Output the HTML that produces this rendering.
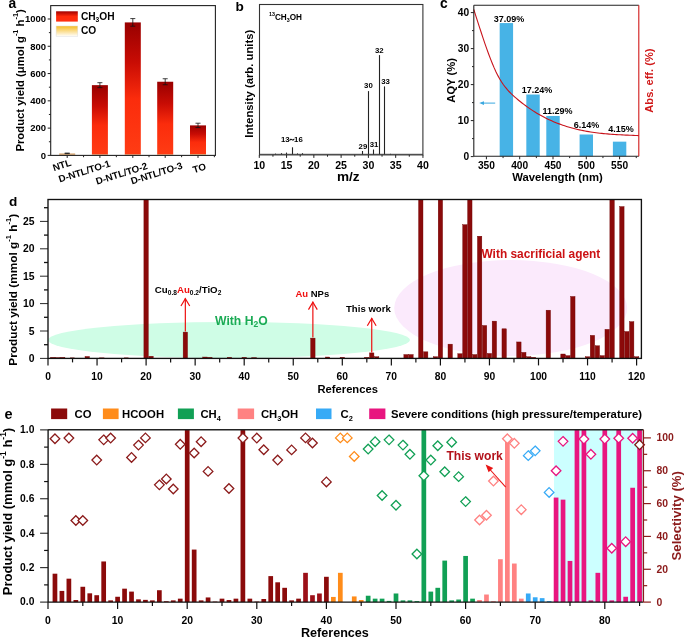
<!DOCTYPE html>
<html><head><meta charset="utf-8"><style>
html,body{margin:0;padding:0;background:#fff;}
body{width:685px;height:638px;overflow:hidden;}
svg{display:block;will-change:transform;}
</style></head><body>
<svg width="685" height="638" viewBox="0 0 685 638" font-family="'Liberation Sans', sans-serif" font-weight="bold">
<rect width="685" height="638" fill="#fff"/>
<defs><linearGradient id="gRed" x1="0" y1="0" x2="0" y2="1"><stop offset="0" stop-color="#980000"/><stop offset="0.3" stop-color="#c80c04"/><stop offset="0.58" stop-color="#fb2c0c"/><stop offset="1" stop-color="#ff3c14"/></linearGradient><linearGradient id="gRedL" x1="0" y1="0" x2="0" y2="1"><stop offset="0" stop-color="#a00000"/><stop offset="0.5" stop-color="#ff2a0a"/><stop offset="1" stop-color="#ff2e10"/></linearGradient><linearGradient id="gCO" x1="0" y1="0" x2="0" y2="1"><stop offset="0" stop-color="#f7bd22"/><stop offset="1" stop-color="#ffffff"/></linearGradient></defs><rect x="59.20" y="153.35" width="16.00" height="2.05" fill="#dcb080" /><line x1="67.20" y1="153.08" x2="67.20" y2="153.63" stroke="#111" stroke-width="0.8" /><line x1="64.70" y1="153.08" x2="69.70" y2="153.08" stroke="#111" stroke-width="0.8" /><line x1="64.70" y1="153.63" x2="69.70" y2="153.63" stroke="#111" stroke-width="0.8" /><rect x="91.90" y="85.15" width="16.00" height="69.43" fill="url(#gRed)" /><rect x="91.90" y="154.58" width="16.00" height="0.82" fill="#e4aa6a" /><line x1="99.90" y1="82.70" x2="99.90" y2="87.61" stroke="#111" stroke-width="0.8" /><line x1="97.40" y1="82.70" x2="102.40" y2="82.70" stroke="#111" stroke-width="0.8" /><line x1="97.40" y1="87.61" x2="102.40" y2="87.61" stroke="#111" stroke-width="0.8" /><rect x="124.80" y="22.41" width="16.00" height="132.17" fill="url(#gRed)" /><rect x="124.80" y="154.58" width="16.00" height="0.82" fill="#e4aa6a" /><line x1="132.80" y1="18.59" x2="132.80" y2="26.23" stroke="#111" stroke-width="0.8" /><line x1="130.30" y1="18.59" x2="135.30" y2="18.59" stroke="#111" stroke-width="0.8" /><line x1="130.30" y1="26.23" x2="135.30" y2="26.23" stroke="#111" stroke-width="0.8" /><rect x="157.20" y="81.74" width="16.00" height="72.84" fill="url(#gRed)" /><rect x="157.20" y="154.58" width="16.00" height="0.82" fill="#e4aa6a" /><line x1="165.20" y1="78.74" x2="165.20" y2="84.74" stroke="#111" stroke-width="0.8" /><line x1="162.70" y1="78.74" x2="167.70" y2="78.74" stroke="#111" stroke-width="0.8" /><line x1="162.70" y1="84.74" x2="167.70" y2="84.74" stroke="#111" stroke-width="0.8" /><rect x="190.00" y="125.39" width="16.00" height="28.92" fill="url(#gRed)" /><rect x="190.00" y="154.31" width="16.00" height="1.09" fill="#e4aa6a" /><line x1="198.00" y1="123.21" x2="198.00" y2="127.57" stroke="#111" stroke-width="0.8" /><line x1="195.50" y1="123.21" x2="200.50" y2="123.21" stroke="#111" stroke-width="0.8" /><line x1="195.50" y1="127.57" x2="200.50" y2="127.57" stroke="#111" stroke-width="0.8" /><rect x="50.7" y="5.6" width="164.7" height="149.8" fill="none" stroke="#222" stroke-width="1.1"/><line x1="47.70" y1="155.40" x2="50.70" y2="155.40" stroke="#222" stroke-width="1.0" /><text x="46.10" y="158.70" font-size="9.5" text-anchor="end" fill="#000" >0</text><line x1="47.70" y1="128.12" x2="50.70" y2="128.12" stroke="#222" stroke-width="1.0" /><text x="46.10" y="131.42" font-size="9.5" text-anchor="end" fill="#000" >200</text><line x1="47.70" y1="100.84" x2="50.70" y2="100.84" stroke="#222" stroke-width="1.0" /><text x="46.10" y="104.14" font-size="9.5" text-anchor="end" fill="#000" >400</text><line x1="47.70" y1="73.56" x2="50.70" y2="73.56" stroke="#222" stroke-width="1.0" /><text x="46.10" y="76.86" font-size="9.5" text-anchor="end" fill="#000" >600</text><line x1="47.70" y1="46.28" x2="50.70" y2="46.28" stroke="#222" stroke-width="1.0" /><text x="46.10" y="49.58" font-size="9.5" text-anchor="end" fill="#000" >800</text><line x1="47.70" y1="19.00" x2="50.70" y2="19.00" stroke="#222" stroke-width="1.0" /><text x="46.10" y="22.30" font-size="9.5" text-anchor="end" fill="#000" >1000</text><line x1="48.90" y1="141.76" x2="50.70" y2="141.76" stroke="#222" stroke-width="1.0" /><line x1="48.90" y1="114.48" x2="50.70" y2="114.48" stroke="#222" stroke-width="1.0" /><line x1="48.90" y1="87.20" x2="50.70" y2="87.20" stroke="#222" stroke-width="1.0" /><line x1="48.90" y1="59.92" x2="50.70" y2="59.92" stroke="#222" stroke-width="1.0" /><line x1="48.90" y1="32.64" x2="50.70" y2="32.64" stroke="#222" stroke-width="1.0" /><line x1="67.20" y1="155.40" x2="67.20" y2="157.90" stroke="#222" stroke-width="1.0" /><line x1="99.90" y1="155.40" x2="99.90" y2="157.90" stroke="#222" stroke-width="1.0" /><line x1="132.80" y1="155.40" x2="132.80" y2="157.90" stroke="#222" stroke-width="1.0" /><line x1="165.20" y1="155.40" x2="165.20" y2="157.90" stroke="#222" stroke-width="1.0" /><line x1="198.00" y1="155.40" x2="198.00" y2="157.90" stroke="#222" stroke-width="1.0" /><line x1="83.55" y1="155.40" x2="83.55" y2="157.20" stroke="#222" stroke-width="1.0" /><line x1="116.35" y1="155.40" x2="116.35" y2="157.20" stroke="#222" stroke-width="1.0" /><line x1="149.00" y1="155.40" x2="149.00" y2="157.20" stroke="#222" stroke-width="1.0" /><line x1="181.60" y1="155.40" x2="181.60" y2="157.20" stroke="#222" stroke-width="1.0" /><line x1="214.35" y1="155.40" x2="214.35" y2="157.20" stroke="#222" stroke-width="1.0" /><rect x="56.10" y="11.30" width="21.70" height="10.30" fill="url(#gRedL)" /><rect x="56.10" y="26.00" width="21.70" height="10.50" fill="url(#gCO)" stroke="#ddd" stroke-width="0.5"/><text x="80.90" y="19.60" font-size="10.2" text-anchor="start" fill="#000" ><tspan dy="0.00" >CH</tspan><tspan dy="2.24" font-size="6.63" >3</tspan><tspan dy="-2.24" >OH</tspan></text><text x="80.90" y="34.20" font-size="10.2" text-anchor="start" fill="#000" >CO</text><text transform="translate(53.90,171.20) rotate(-17.5)" font-size="9.7" text-anchor="start" fill="#000">NTL</text><text transform="translate(59.80,182.60) rotate(-17.5)" font-size="9.7" text-anchor="start" fill="#000">D-NTL/TO-1</text><text transform="translate(97.10,184.80) rotate(-17.5)" font-size="9.7" text-anchor="start" fill="#000">D-NTL/TO-2</text><text transform="translate(131.90,184.60) rotate(-17.5)" font-size="9.7" text-anchor="start" fill="#000">D-NTL/TO-3</text><text transform="translate(194.00,173.20) rotate(-17.5)" font-size="9.7" text-anchor="start" fill="#000">TO</text><text x="8.50" y="8.30" font-size="13.8" text-anchor="start" fill="#000" >a</text><text transform="translate(23.60,80.40) rotate(-90)" font-size="11.3" text-anchor="middle" fill="#000"><tspan dy="0.00" >Product yield (μmol g</tspan><tspan dy="-5.31" font-size="7.35" >-1</tspan><tspan dy="5.31" > h</tspan><tspan dy="-5.31" font-size="7.35" >-1</tspan><tspan dy="5.31" >)</tspan></text><rect x="259.5" y="4.5" width="163.39999999999998" height="150.4" fill="none" stroke="#333" stroke-width="1.1"/><line x1="275.50" y1="154.90" x2="275.50" y2="153.60" stroke="#222" stroke-width="1.1" /><line x1="281.50" y1="154.90" x2="281.50" y2="153.20" stroke="#222" stroke-width="1.1" /><line x1="286.50" y1="154.90" x2="286.50" y2="152.60" stroke="#222" stroke-width="1.1" /><line x1="292.50" y1="154.90" x2="292.50" y2="147.30" stroke="#222" stroke-width="1.1" /><line x1="297.50" y1="154.90" x2="297.50" y2="153.40" stroke="#222" stroke-width="1.1" /><line x1="302.50" y1="154.90" x2="302.50" y2="153.20" stroke="#222" stroke-width="1.1" /><line x1="362.50" y1="154.90" x2="362.50" y2="151.00" stroke="#222" stroke-width="1.1" /><line x1="368.50" y1="154.90" x2="368.50" y2="91.10" stroke="#222" stroke-width="1.1" /><line x1="373.50" y1="154.90" x2="373.50" y2="149.50" stroke="#222" stroke-width="1.1" /><line x1="379.50" y1="154.90" x2="379.50" y2="55.10" stroke="#222" stroke-width="1.1" /><line x1="384.50" y1="154.90" x2="384.50" y2="86.40" stroke="#222" stroke-width="1.1" /><line x1="390.50" y1="154.90" x2="390.50" y2="153.80" stroke="#222" stroke-width="1.1" /><line x1="259.50" y1="154.30" x2="422.90" y2="154.30" stroke="#444" stroke-width="1.0" /><line x1="259.30" y1="154.90" x2="259.30" y2="157.90" stroke="#222" stroke-width="1.0" /><text x="259.30" y="168.80" font-size="10.6" text-anchor="middle" fill="#000" >10</text><line x1="286.57" y1="154.90" x2="286.57" y2="157.90" stroke="#222" stroke-width="1.0" /><text x="286.57" y="168.80" font-size="10.6" text-anchor="middle" fill="#000" >15</text><line x1="313.85" y1="154.90" x2="313.85" y2="157.90" stroke="#222" stroke-width="1.0" /><text x="313.85" y="168.80" font-size="10.6" text-anchor="middle" fill="#000" >20</text><line x1="341.12" y1="154.90" x2="341.12" y2="157.90" stroke="#222" stroke-width="1.0" /><text x="341.12" y="168.80" font-size="10.6" text-anchor="middle" fill="#000" >25</text><line x1="368.40" y1="154.90" x2="368.40" y2="157.90" stroke="#222" stroke-width="1.0" /><text x="368.40" y="168.80" font-size="10.6" text-anchor="middle" fill="#000" >30</text><line x1="395.68" y1="154.90" x2="395.68" y2="157.90" stroke="#222" stroke-width="1.0" /><text x="395.68" y="168.80" font-size="10.6" text-anchor="middle" fill="#000" >35</text><line x1="422.95" y1="154.90" x2="422.95" y2="157.90" stroke="#222" stroke-width="1.0" /><text x="422.95" y="168.80" font-size="10.6" text-anchor="middle" fill="#000" >40</text><line x1="272.94" y1="154.90" x2="272.94" y2="156.70" stroke="#222" stroke-width="1.0" /><line x1="300.21" y1="154.90" x2="300.21" y2="156.70" stroke="#222" stroke-width="1.0" /><line x1="327.49" y1="154.90" x2="327.49" y2="156.70" stroke="#222" stroke-width="1.0" /><line x1="354.76" y1="154.90" x2="354.76" y2="156.70" stroke="#222" stroke-width="1.0" /><line x1="382.04" y1="154.90" x2="382.04" y2="156.70" stroke="#222" stroke-width="1.0" /><line x1="409.31" y1="154.90" x2="409.31" y2="156.70" stroke="#222" stroke-width="1.0" /><text x="280.90" y="142.30" font-size="7.8" text-anchor="start" fill="#000" >13</text><text x="302.80" y="142.30" font-size="7.8" text-anchor="end" fill="#000" >16</text><path d="M289.7,140.6 C290.3,139.2 291.1,138.9 291.9,139.6 C292.7,140.3 293.4,140.4 294.1,139.0" fill="none" stroke="#000" stroke-width="1.05"/><text x="362.94" y="149.00" font-size="7.8" text-anchor="middle" fill="#000" >29</text><text x="374.06" y="146.60" font-size="7.8" text-anchor="middle" fill="#000" >31</text><text x="368.40" y="88.00" font-size="7.8" text-anchor="middle" fill="#000" >30</text><text x="379.31" y="52.70" font-size="7.8" text-anchor="middle" fill="#000" >32</text><text x="385.56" y="83.80" font-size="7.8" text-anchor="middle" fill="#000" >33</text><text x="269.00" y="20.00" font-size="8.2" text-anchor="start" fill="#000" ><tspan dy="-3.85" font-size="5.33" >13</tspan><tspan dy="3.85" >CH</tspan><tspan dy="1.80" font-size="5.33" >3</tspan><tspan dy="-1.80" >OH</tspan></text><text x="235.40" y="10.60" font-size="13.6" text-anchor="start" fill="#000" >b</text><text x="348.30" y="181.10" font-size="13.6" text-anchor="middle" fill="#000" >m/z</text><text transform="translate(253.30,83.70) rotate(-90)" font-size="11.3" text-anchor="middle" fill="#000">Intensity (arb. units)</text><rect x="499.68" y="23.08" width="13.40" height="133.22" fill="#47b3e6" /><text x="509.00" y="22.10" font-size="9.0" text-anchor="middle" fill="#000" >37.09%</text><rect x="526.32" y="94.54" width="13.40" height="61.76" fill="#47b3e6" /><text x="536.90" y="92.70" font-size="9.0" text-anchor="middle" fill="#000" >17.24%</text><rect x="546.30" y="115.96" width="13.40" height="40.34" fill="#47b3e6" /><text x="557.50" y="113.70" font-size="9.0" text-anchor="middle" fill="#000" >11.29%</text><rect x="579.60" y="134.50" width="13.40" height="21.80" fill="#47b3e6" /><text x="586.50" y="128.00" font-size="9.0" text-anchor="middle" fill="#000" >6.14%</text><rect x="612.90" y="141.66" width="13.40" height="14.64" fill="#47b3e6" /><text x="621.00" y="131.60" font-size="9.0" text-anchor="middle" fill="#000" >4.15%</text><path d="M473.80,9.53 L475.65,15.32 L477.51,21.10 L479.36,26.85 L481.22,32.54 L483.07,38.13 L484.92,43.59 L486.78,48.89 L488.63,54.00 L490.49,58.90 L492.34,63.54 L494.19,67.90 L496.05,71.94 L497.90,75.64 L499.76,78.99 L501.61,82.01 L503.46,84.74 L505.32,87.21 L507.17,89.46 L509.02,91.51 L510.88,93.40 L512.73,95.16 L514.59,96.83 L516.44,98.44 L518.29,99.99 L520.15,101.51 L522.00,102.97 L523.86,104.39 L525.71,105.77 L527.56,107.11 L529.42,108.40 L531.27,109.65 L533.13,110.86 L534.98,112.03 L536.83,113.16 L538.69,114.25 L540.54,115.30 L542.40,116.31 L544.25,117.29 L546.10,118.23 L547.96,119.14 L549.81,120.01 L551.67,120.85 L553.52,121.65 L555.37,122.43 L557.23,123.17 L559.08,123.88 L560.93,124.56 L562.79,125.21 L564.64,125.83 L566.50,126.43 L568.35,127.00 L570.20,127.54 L572.06,128.05 L573.91,128.54 L575.77,129.01 L577.62,129.45 L579.47,129.87 L581.33,130.27 L583.18,130.64 L585.04,131.00 L586.89,131.34 L588.74,131.65 L590.60,131.95 L592.45,132.23 L594.31,132.49 L596.16,132.74 L598.01,132.97 L599.87,133.19 L601.72,133.39 L603.58,133.58 L605.43,133.76 L607.28,133.92 L609.14,134.08 L610.99,134.22 L612.84,134.35 L614.70,134.48 L616.55,134.59 L618.41,134.70 L620.26,134.81 L622.11,134.90 L623.97,134.99 L625.82,135.08 L627.68,135.16 L629.53,135.24 L631.38,135.32 L633.24,135.39 L635.09,135.47 L636.95,135.54 L638.80,135.62" fill="none" stroke="#c8141c" stroke-width="1.1"/><line x1="473.80" y1="5.20" x2="638.80" y2="5.20" stroke="#222" stroke-width="1.1" /><line x1="473.80" y1="5.20" x2="473.80" y2="156.30" stroke="#222" stroke-width="1.1" /><line x1="473.80" y1="156.30" x2="638.80" y2="156.30" stroke="#222" stroke-width="1.1" /><line x1="638.80" y1="5.20" x2="638.80" y2="156.30" stroke="#d01818" stroke-width="1.1" /><line x1="470.80" y1="156.60" x2="473.80" y2="156.60" stroke="#222" stroke-width="1.0" /><text x="469.10" y="160.00" font-size="10.2" text-anchor="end" fill="#000" >0</text><line x1="470.80" y1="120.60" x2="473.80" y2="120.60" stroke="#222" stroke-width="1.0" /><text x="469.10" y="124.00" font-size="10.2" text-anchor="end" fill="#000" >10</text><line x1="470.80" y1="84.60" x2="473.80" y2="84.60" stroke="#222" stroke-width="1.0" /><text x="469.10" y="88.00" font-size="10.2" text-anchor="end" fill="#000" >20</text><line x1="470.80" y1="48.60" x2="473.80" y2="48.60" stroke="#222" stroke-width="1.0" /><text x="469.10" y="52.00" font-size="10.2" text-anchor="end" fill="#000" >30</text><line x1="470.80" y1="12.60" x2="473.80" y2="12.60" stroke="#222" stroke-width="1.0" /><text x="469.10" y="16.00" font-size="10.2" text-anchor="end" fill="#000" >40</text><line x1="472.00" y1="138.60" x2="473.80" y2="138.60" stroke="#222" stroke-width="1.0" /><line x1="472.00" y1="102.60" x2="473.80" y2="102.60" stroke="#222" stroke-width="1.0" /><line x1="472.00" y1="66.60" x2="473.80" y2="66.60" stroke="#222" stroke-width="1.0" /><line x1="472.00" y1="30.60" x2="473.80" y2="30.60" stroke="#222" stroke-width="1.0" /><line x1="486.40" y1="156.30" x2="486.40" y2="159.30" stroke="#222" stroke-width="1.0" /><text x="486.40" y="169.40" font-size="10.2" text-anchor="middle" fill="#000" >350</text><line x1="519.70" y1="156.30" x2="519.70" y2="159.30" stroke="#222" stroke-width="1.0" /><text x="519.70" y="169.40" font-size="10.2" text-anchor="middle" fill="#000" >400</text><line x1="553.00" y1="156.30" x2="553.00" y2="159.30" stroke="#222" stroke-width="1.0" /><text x="553.00" y="169.40" font-size="10.2" text-anchor="middle" fill="#000" >450</text><line x1="586.30" y1="156.30" x2="586.30" y2="159.30" stroke="#222" stroke-width="1.0" /><text x="586.30" y="169.40" font-size="10.2" text-anchor="middle" fill="#000" >500</text><line x1="619.60" y1="156.30" x2="619.60" y2="159.30" stroke="#222" stroke-width="1.0" /><text x="619.60" y="169.40" font-size="10.2" text-anchor="middle" fill="#000" >550</text><line x1="503.05" y1="156.30" x2="503.05" y2="158.10" stroke="#222" stroke-width="1.0" /><line x1="536.35" y1="156.30" x2="536.35" y2="158.10" stroke="#222" stroke-width="1.0" /><line x1="569.65" y1="156.30" x2="569.65" y2="158.10" stroke="#222" stroke-width="1.0" /><line x1="602.95" y1="156.30" x2="602.95" y2="158.10" stroke="#222" stroke-width="1.0" /><line x1="636.25" y1="156.30" x2="636.25" y2="158.10" stroke="#222" stroke-width="1.0" /><line x1="481.50" y1="103.10" x2="495.20" y2="103.10" stroke="#3aa8e0" stroke-width="1.0" /><path d="M479.2,103.1 L484.0,101.2 L484.0,105.0 Z" fill="#3aa8e0"/><text x="439.90" y="8.00" font-size="13.8" text-anchor="start" fill="#000" >c</text><text x="557.50" y="181.10" font-size="11.3" text-anchor="middle" fill="#000" >Wavelength (nm)</text><text transform="translate(455.00,80.40) rotate(-90)" font-size="11.2" text-anchor="middle" fill="#000">AQY (%)</text><text transform="translate(653.30,80.60) rotate(-90)" font-size="11.1" text-anchor="middle" fill="#d01818">Abs. eff. (%)</text><ellipse cx="229" cy="340" rx="181" ry="18" fill="#cffde6"/><ellipse cx="510.7" cy="308" rx="116.5" ry="48" fill="#fbeafc"/><rect x="50.70" y="357.30" width="4.40" height="1.10" fill="#8b0a0a" stroke="#6e0000" stroke-width="0.4"/><rect x="55.61" y="357.58" width="4.40" height="0.82" fill="#8b0a0a" stroke="#6e0000" stroke-width="0.4"/><rect x="60.52" y="357.30" width="4.40" height="1.10" fill="#8b0a0a" stroke="#6e0000" stroke-width="0.4"/><rect x="70.33" y="357.85" width="4.40" height="0.55" fill="#8b0a0a" stroke="#6e0000" stroke-width="0.4"/><rect x="85.04" y="356.48" width="4.40" height="1.92" fill="#8b0a0a" stroke="#6e0000" stroke-width="0.4"/><rect x="99.76" y="357.85" width="4.40" height="0.55" fill="#8b0a0a" stroke="#6e0000" stroke-width="0.4"/><rect x="124.28" y="357.85" width="4.40" height="0.55" fill="#8b0a0a" stroke="#6e0000" stroke-width="0.4"/><rect x="143.90" y="199.50" width="4.40" height="158.90" fill="#8b0a0a" stroke="#6e0000" stroke-width="0.4"/><rect x="148.81" y="356.21" width="4.40" height="2.19" fill="#8b0a0a" stroke="#6e0000" stroke-width="0.4"/><rect x="183.14" y="332.10" width="4.40" height="26.30" fill="#8b0a0a" stroke="#6e0000" stroke-width="0.4"/><rect x="202.76" y="357.03" width="4.40" height="1.37" fill="#8b0a0a" stroke="#6e0000" stroke-width="0.4"/><rect x="207.67" y="357.30" width="4.40" height="1.10" fill="#8b0a0a" stroke="#6e0000" stroke-width="0.4"/><rect x="227.29" y="357.30" width="4.40" height="1.10" fill="#8b0a0a" stroke="#6e0000" stroke-width="0.4"/><rect x="242.00" y="357.30" width="4.40" height="1.10" fill="#8b0a0a" stroke="#6e0000" stroke-width="0.4"/><rect x="251.81" y="357.58" width="4.40" height="0.82" fill="#8b0a0a" stroke="#6e0000" stroke-width="0.4"/><rect x="310.67" y="338.12" width="4.40" height="20.28" fill="#8b0a0a" stroke="#6e0000" stroke-width="0.4"/><rect x="325.39" y="357.03" width="4.40" height="1.37" fill="#8b0a0a" stroke="#6e0000" stroke-width="0.4"/><rect x="340.10" y="357.30" width="4.40" height="1.10" fill="#8b0a0a" stroke="#6e0000" stroke-width="0.4"/><rect x="364.62" y="357.30" width="4.40" height="1.10" fill="#8b0a0a" stroke="#6e0000" stroke-width="0.4"/><rect x="369.53" y="352.92" width="4.40" height="5.48" fill="#8b0a0a" stroke="#6e0000" stroke-width="0.4"/><rect x="374.44" y="356.76" width="4.40" height="1.64" fill="#8b0a0a" stroke="#6e0000" stroke-width="0.4"/><rect x="403.87" y="354.56" width="4.40" height="3.84" fill="#8b0a0a" stroke="#6e0000" stroke-width="0.4"/><rect x="408.77" y="354.56" width="4.40" height="3.84" fill="#8b0a0a" stroke="#6e0000" stroke-width="0.4"/><rect x="418.58" y="199.50" width="4.40" height="158.90" fill="#8b0a0a" stroke="#6e0000" stroke-width="0.4"/><rect x="423.49" y="351.82" width="4.40" height="6.58" fill="#8b0a0a" stroke="#6e0000" stroke-width="0.4"/><rect x="433.30" y="356.76" width="4.40" height="1.64" fill="#8b0a0a" stroke="#6e0000" stroke-width="0.4"/><rect x="438.20" y="199.50" width="4.40" height="158.90" fill="#8b0a0a" stroke="#6e0000" stroke-width="0.4"/><rect x="448.01" y="344.15" width="4.40" height="14.25" fill="#8b0a0a" stroke="#6e0000" stroke-width="0.4"/><rect x="457.82" y="353.74" width="4.40" height="4.66" fill="#8b0a0a" stroke="#6e0000" stroke-width="0.4"/><rect x="462.73" y="224.69" width="4.40" height="133.71" fill="#8b0a0a" stroke="#6e0000" stroke-width="0.4"/><rect x="467.63" y="199.50" width="4.40" height="158.90" fill="#8b0a0a" stroke="#6e0000" stroke-width="0.4"/><rect x="472.54" y="354.56" width="4.40" height="3.84" fill="#8b0a0a" stroke="#6e0000" stroke-width="0.4"/><rect x="477.44" y="236.20" width="4.40" height="122.20" fill="#8b0a0a" stroke="#6e0000" stroke-width="0.4"/><rect x="482.35" y="325.52" width="4.40" height="32.88" fill="#8b0a0a" stroke="#6e0000" stroke-width="0.4"/><rect x="487.25" y="353.47" width="4.40" height="4.93" fill="#8b0a0a" stroke="#6e0000" stroke-width="0.4"/><rect x="492.16" y="321.14" width="4.40" height="37.26" fill="#8b0a0a" stroke="#6e0000" stroke-width="0.4"/><rect x="501.97" y="328.81" width="4.40" height="29.59" fill="#8b0a0a" stroke="#6e0000" stroke-width="0.4"/><rect x="516.68" y="341.96" width="4.40" height="16.44" fill="#8b0a0a" stroke="#6e0000" stroke-width="0.4"/><rect x="521.59" y="352.37" width="4.40" height="6.03" fill="#8b0a0a" stroke="#6e0000" stroke-width="0.4"/><rect x="526.49" y="356.76" width="4.40" height="1.64" fill="#8b0a0a" stroke="#6e0000" stroke-width="0.4"/><rect x="531.39" y="357.30" width="4.40" height="1.10" fill="#8b0a0a" stroke="#6e0000" stroke-width="0.4"/><rect x="546.11" y="310.18" width="4.40" height="48.22" fill="#8b0a0a" stroke="#6e0000" stroke-width="0.4"/><rect x="560.82" y="354.02" width="4.40" height="4.38" fill="#8b0a0a" stroke="#6e0000" stroke-width="0.4"/><rect x="565.73" y="355.66" width="4.40" height="2.74" fill="#8b0a0a" stroke="#6e0000" stroke-width="0.4"/><rect x="570.63" y="296.48" width="4.40" height="61.92" fill="#8b0a0a" stroke="#6e0000" stroke-width="0.4"/><rect x="585.35" y="356.76" width="4.40" height="1.64" fill="#8b0a0a" stroke="#6e0000" stroke-width="0.4"/><rect x="590.25" y="335.38" width="4.40" height="23.02" fill="#8b0a0a" stroke="#6e0000" stroke-width="0.4"/><rect x="595.16" y="345.80" width="4.40" height="12.60" fill="#8b0a0a" stroke="#6e0000" stroke-width="0.4"/><rect x="600.06" y="355.66" width="4.40" height="2.74" fill="#8b0a0a" stroke="#6e0000" stroke-width="0.4"/><rect x="604.97" y="329.36" width="4.40" height="29.04" fill="#8b0a0a" stroke="#6e0000" stroke-width="0.4"/><rect x="609.88" y="199.50" width="4.40" height="158.90" fill="#8b0a0a" stroke="#6e0000" stroke-width="0.4"/><rect x="619.68" y="206.60" width="4.40" height="151.80" fill="#8b0a0a" stroke="#6e0000" stroke-width="0.4"/><rect x="624.59" y="331.55" width="4.40" height="26.85" fill="#8b0a0a" stroke="#6e0000" stroke-width="0.4"/><rect x="629.50" y="321.68" width="4.40" height="36.72" fill="#8b0a0a" stroke="#6e0000" stroke-width="0.4"/><rect x="634.40" y="356.76" width="4.40" height="1.64" fill="#8b0a0a" stroke="#6e0000" stroke-width="0.4"/><rect x="48.0" y="199.5" width="593.4" height="158.89999999999998" fill="none" stroke="#111" stroke-width="1.35"/><line x1="40.00" y1="358.40" x2="48.00" y2="358.40" stroke="#111" stroke-width="0.9" /><text x="34.50" y="362.00" font-size="10.4" text-anchor="end" fill="#000" >0</text><line x1="40.00" y1="331.00" x2="48.00" y2="331.00" stroke="#111" stroke-width="0.9" /><text x="34.50" y="334.60" font-size="10.4" text-anchor="end" fill="#000" >5</text><line x1="40.00" y1="303.60" x2="48.00" y2="303.60" stroke="#111" stroke-width="0.9" /><text x="34.50" y="307.20" font-size="10.4" text-anchor="end" fill="#000" >10</text><line x1="40.00" y1="276.20" x2="48.00" y2="276.20" stroke="#111" stroke-width="0.9" /><text x="34.50" y="279.80" font-size="10.4" text-anchor="end" fill="#000" >15</text><line x1="40.00" y1="248.80" x2="48.00" y2="248.80" stroke="#111" stroke-width="0.9" /><text x="34.50" y="252.40" font-size="10.4" text-anchor="end" fill="#000" >20</text><line x1="40.00" y1="221.40" x2="48.00" y2="221.40" stroke="#111" stroke-width="0.9" /><text x="34.50" y="225.00" font-size="10.4" text-anchor="end" fill="#000" >25</text><line x1="44.00" y1="344.70" x2="48.00" y2="344.70" stroke="#111" stroke-width="1.3" /><line x1="44.00" y1="317.30" x2="48.00" y2="317.30" stroke="#111" stroke-width="1.3" /><line x1="44.00" y1="289.90" x2="48.00" y2="289.90" stroke="#111" stroke-width="1.3" /><line x1="44.00" y1="262.50" x2="48.00" y2="262.50" stroke="#111" stroke-width="1.3" /><line x1="44.00" y1="235.10" x2="48.00" y2="235.10" stroke="#111" stroke-width="1.3" /><line x1="44.00" y1="207.70" x2="48.00" y2="207.70" stroke="#111" stroke-width="1.3" /><line x1="48.00" y1="358.40" x2="48.00" y2="365.40" stroke="#111" stroke-width="1.2" /><text x="48.00" y="380.00" font-size="10.3" text-anchor="middle" fill="#000" >0</text><line x1="97.05" y1="358.40" x2="97.05" y2="365.40" stroke="#111" stroke-width="1.2" /><text x="97.05" y="380.00" font-size="10.3" text-anchor="middle" fill="#000" >10</text><line x1="146.10" y1="358.40" x2="146.10" y2="365.40" stroke="#111" stroke-width="1.2" /><text x="146.10" y="380.00" font-size="10.3" text-anchor="middle" fill="#000" >20</text><line x1="195.15" y1="358.40" x2="195.15" y2="365.40" stroke="#111" stroke-width="1.2" /><text x="195.15" y="380.00" font-size="10.3" text-anchor="middle" fill="#000" >30</text><line x1="244.20" y1="358.40" x2="244.20" y2="365.40" stroke="#111" stroke-width="1.2" /><text x="244.20" y="380.00" font-size="10.3" text-anchor="middle" fill="#000" >40</text><line x1="293.25" y1="358.40" x2="293.25" y2="365.40" stroke="#111" stroke-width="1.2" /><text x="293.25" y="380.00" font-size="10.3" text-anchor="middle" fill="#000" >50</text><line x1="342.30" y1="358.40" x2="342.30" y2="365.40" stroke="#111" stroke-width="1.2" /><text x="342.30" y="380.00" font-size="10.3" text-anchor="middle" fill="#000" >60</text><line x1="391.35" y1="358.40" x2="391.35" y2="365.40" stroke="#111" stroke-width="1.2" /><text x="391.35" y="380.00" font-size="10.3" text-anchor="middle" fill="#000" >70</text><line x1="440.40" y1="358.40" x2="440.40" y2="365.40" stroke="#111" stroke-width="1.2" /><text x="440.40" y="380.00" font-size="10.3" text-anchor="middle" fill="#000" >80</text><line x1="489.45" y1="358.40" x2="489.45" y2="365.40" stroke="#111" stroke-width="1.2" /><text x="489.45" y="380.00" font-size="10.3" text-anchor="middle" fill="#000" >90</text><line x1="538.50" y1="358.40" x2="538.50" y2="365.40" stroke="#111" stroke-width="1.2" /><text x="538.50" y="380.00" font-size="10.3" text-anchor="middle" fill="#000" >100</text><line x1="587.55" y1="358.40" x2="587.55" y2="365.40" stroke="#111" stroke-width="1.2" /><text x="587.55" y="380.00" font-size="10.3" text-anchor="middle" fill="#000" >110</text><line x1="636.60" y1="358.40" x2="636.60" y2="365.40" stroke="#111" stroke-width="1.2" /><text x="636.60" y="380.00" font-size="10.3" text-anchor="middle" fill="#000" >120</text><line x1="72.53" y1="358.40" x2="72.53" y2="362.40" stroke="#111" stroke-width="1.2" /><line x1="121.58" y1="358.40" x2="121.58" y2="362.40" stroke="#111" stroke-width="1.2" /><line x1="170.62" y1="358.40" x2="170.62" y2="362.40" stroke="#111" stroke-width="1.2" /><line x1="219.68" y1="358.40" x2="219.68" y2="362.40" stroke="#111" stroke-width="1.2" /><line x1="268.73" y1="358.40" x2="268.73" y2="362.40" stroke="#111" stroke-width="1.2" /><line x1="317.78" y1="358.40" x2="317.78" y2="362.40" stroke="#111" stroke-width="1.2" /><line x1="366.82" y1="358.40" x2="366.82" y2="362.40" stroke="#111" stroke-width="1.2" /><line x1="415.88" y1="358.40" x2="415.88" y2="362.40" stroke="#111" stroke-width="1.2" /><line x1="464.93" y1="358.40" x2="464.93" y2="362.40" stroke="#111" stroke-width="1.2" /><line x1="513.98" y1="358.40" x2="513.98" y2="362.40" stroke="#111" stroke-width="1.2" /><line x1="563.02" y1="358.40" x2="563.02" y2="362.40" stroke="#111" stroke-width="1.2" /><line x1="612.08" y1="358.40" x2="612.08" y2="362.40" stroke="#111" stroke-width="1.2" /><line x1="185.34" y1="298.20" x2="185.34" y2="331.50" stroke="#ee1111" stroke-width="1.2" /><path d="M180.94,306.00 L185.34,298.60 L189.74,306.00" fill="none" stroke="#ee1111" stroke-width="1.2"/><line x1="312.87" y1="301.80" x2="312.87" y2="337.50" stroke="#ee1111" stroke-width="1.2" /><path d="M308.47,309.60 L312.87,302.20 L317.27,309.60" fill="none" stroke="#ee1111" stroke-width="1.2"/><line x1="371.73" y1="318.00" x2="371.73" y2="352.50" stroke="#ee1111" stroke-width="1.2" /><path d="M367.33,325.80 L371.73,318.40 L376.13,325.80" fill="none" stroke="#ee1111" stroke-width="1.2"/><text x="154.80" y="292.60" font-size="9.7" text-anchor="start" fill="#000" ><tspan dy="0.00" >Cu</tspan><tspan dy="2.13" font-size="6.60" >0.8</tspan><tspan dy="-2.13" fill="#f01010">Au</tspan><tspan dy="2.13" font-size="6.60" >0.2</tspan><tspan dy="-2.13" >/TiO</tspan><tspan dy="2.13" font-size="6.60" >2</tspan></text><text x="295.40" y="296.50" font-size="9.5" text-anchor="start" fill="#000" ><tspan fill="#f01010">Au</tspan> NPs</text><text x="346.00" y="311.50" font-size="9.6" text-anchor="start" fill="#000" >This work</text><text x="215.00" y="324.70" font-size="12.2" text-anchor="start" fill="#1bab55" ><tspan dy="0.00" >With H</tspan><tspan dy="2.68" font-size="8.54" >2</tspan><tspan dy="-2.68" >O</tspan></text><text x="481.50" y="257.70" font-size="11.9" text-anchor="start" fill="#cc1214" >With sacrificial agent</text><text x="9.00" y="205.90" font-size="13.6" text-anchor="start" fill="#000" >d</text><text x="347.70" y="393.20" font-size="11.2" text-anchor="middle" fill="#000" >References</text><text transform="translate(16.90,289.70) rotate(-90)" font-size="11.8" text-anchor="middle" fill="#000"><tspan dy="0.00" >Product yield (mmol g</tspan><tspan dy="-5.55" font-size="7.67" >-1</tspan><tspan dy="5.55" > h</tspan><tspan dy="-5.55" font-size="7.67" >-1</tspan><tspan dy="5.55" >)</tspan></text><rect x="554.00" y="429.70" width="89.40" height="172.40" fill="#ccffff" /><rect x="52.61" y="573.69" width="4.70" height="28.41" fill="#8b0a0a" /><rect x="59.57" y="590.91" width="4.70" height="11.19" fill="#8b0a0a" /><rect x="66.53" y="578.68" width="4.70" height="23.42" fill="#8b0a0a" /><rect x="73.49" y="600.03" width="4.70" height="2.07" fill="#8b0a0a" /><rect x="80.45" y="586.77" width="4.70" height="15.33" fill="#8b0a0a" /><rect x="87.41" y="593.32" width="4.70" height="8.78" fill="#8b0a0a" /><rect x="94.37" y="595.21" width="4.70" height="6.89" fill="#8b0a0a" /><rect x="101.33" y="561.46" width="4.70" height="40.64" fill="#8b0a0a" /><rect x="108.29" y="600.38" width="4.70" height="1.72" fill="#8b0a0a" /><rect x="115.25" y="596.76" width="4.70" height="5.34" fill="#8b0a0a" /><rect x="122.21" y="588.67" width="4.70" height="13.43" fill="#8b0a0a" /><rect x="129.17" y="591.60" width="4.70" height="10.50" fill="#8b0a0a" /><rect x="136.13" y="599.34" width="4.70" height="2.76" fill="#8b0a0a" /><rect x="143.09" y="599.86" width="4.70" height="2.24" fill="#8b0a0a" /><rect x="150.05" y="600.38" width="4.70" height="1.72" fill="#8b0a0a" /><rect x="157.01" y="590.22" width="4.70" height="11.88" fill="#8b0a0a" /><rect x="163.97" y="601.24" width="4.70" height="0.86" fill="#8b0a0a" /><rect x="170.93" y="600.38" width="4.70" height="1.72" fill="#8b0a0a" /><rect x="177.89" y="598.66" width="4.70" height="3.44" fill="#8b0a0a" /><rect x="184.85" y="429.70" width="4.70" height="172.40" fill="#8b0a0a" /><rect x="191.81" y="549.58" width="4.70" height="52.52" fill="#8b0a0a" /><rect x="198.77" y="600.38" width="4.70" height="1.72" fill="#8b0a0a" /><rect x="205.73" y="597.45" width="4.70" height="4.65" fill="#8b0a0a" /><rect x="212.69" y="601.58" width="4.70" height="0.52" fill="#8b0a0a" /><rect x="219.65" y="598.66" width="4.70" height="3.44" fill="#8b0a0a" /><rect x="226.61" y="600.03" width="4.70" height="2.07" fill="#8b0a0a" /><rect x="233.57" y="598.66" width="4.70" height="3.44" fill="#8b0a0a" /><rect x="240.53" y="429.70" width="4.70" height="172.40" fill="#8b0a0a" /><rect x="247.49" y="598.66" width="4.70" height="3.44" fill="#8b0a0a" /><rect x="254.45" y="601.58" width="4.70" height="0.52" fill="#8b0a0a" /><rect x="261.41" y="599.00" width="4.70" height="3.10" fill="#8b0a0a" /><rect x="268.37" y="576.10" width="4.70" height="26.00" fill="#8b0a0a" /><rect x="275.33" y="582.30" width="4.70" height="19.80" fill="#8b0a0a" /><rect x="282.29" y="587.81" width="4.70" height="14.29" fill="#8b0a0a" /><rect x="289.25" y="600.38" width="4.70" height="1.72" fill="#8b0a0a" /><rect x="296.21" y="598.66" width="4.70" height="3.44" fill="#8b0a0a" /><rect x="303.17" y="572.83" width="4.70" height="29.27" fill="#9c1018" /><rect x="310.13" y="595.21" width="4.70" height="6.89" fill="#9c1018" /><rect x="317.09" y="593.49" width="4.70" height="8.61" fill="#9c1018" /><rect x="324.05" y="576.79" width="4.70" height="25.31" fill="#8b0a0a" /><rect x="331.01" y="596.93" width="4.70" height="5.17" fill="#ff8c1a" /><rect x="337.97" y="572.83" width="4.70" height="29.27" fill="#ff8c1a" /><rect x="351.89" y="596.42" width="4.70" height="5.68" fill="#ff8c1a" /><rect x="358.85" y="600.03" width="4.70" height="2.07" fill="#ff8c1a" /><rect x="365.81" y="595.73" width="4.70" height="6.37" fill="#11a055" /><rect x="372.77" y="598.66" width="4.70" height="3.44" fill="#11a055" /><rect x="379.73" y="598.66" width="4.70" height="3.44" fill="#11a055" /><rect x="386.69" y="600.89" width="4.70" height="1.21" fill="#11a055" /><rect x="393.65" y="593.49" width="4.70" height="8.61" fill="#11a055" /><rect x="400.61" y="600.38" width="4.70" height="1.72" fill="#11a055" /><rect x="407.57" y="600.38" width="4.70" height="1.72" fill="#11a055" /><rect x="414.53" y="601.07" width="4.70" height="1.03" fill="#11a055" /><rect x="421.49" y="429.70" width="4.70" height="172.40" fill="#11a055" /><rect x="428.45" y="591.60" width="4.70" height="10.50" fill="#11a055" /><rect x="435.41" y="587.81" width="4.70" height="14.29" fill="#11a055" /><rect x="442.37" y="560.60" width="4.70" height="41.50" fill="#11a055" /><rect x="449.33" y="600.38" width="4.70" height="1.72" fill="#11a055" /><rect x="456.29" y="599.52" width="4.70" height="2.58" fill="#11a055" /><rect x="463.25" y="555.95" width="4.70" height="46.15" fill="#11a055" /><rect x="470.21" y="598.66" width="4.70" height="3.44" fill="#11a055" /><rect x="477.17" y="600.03" width="4.70" height="2.07" fill="#ff8282" /><rect x="484.13" y="594.52" width="4.70" height="7.58" fill="#ff8282" /><rect x="491.09" y="601.24" width="4.70" height="0.86" fill="#ff8282" /><rect x="498.05" y="559.22" width="4.70" height="42.88" fill="#ff8282" /><rect x="505.01" y="441.95" width="4.70" height="160.15" fill="#ff8282" /><rect x="511.97" y="563.53" width="4.70" height="38.57" fill="#ff8282" /><rect x="518.93" y="598.66" width="4.70" height="3.44" fill="#ff8282" /><rect x="525.89" y="593.49" width="4.70" height="8.61" fill="#36aaf6" /><rect x="532.85" y="597.28" width="4.70" height="4.82" fill="#36aaf6" /><rect x="539.81" y="598.14" width="4.70" height="3.96" fill="#36aaf6" /><rect x="546.77" y="601.07" width="4.70" height="1.03" fill="#36aaf6" /><rect x="553.73" y="497.57" width="4.70" height="104.53" fill="#e8157f" /><rect x="560.69" y="499.64" width="4.70" height="102.46" fill="#e8157f" /><rect x="567.65" y="560.94" width="4.70" height="41.16" fill="#e8157f" /><rect x="574.61" y="429.70" width="4.70" height="172.40" fill="#e8157f" /><rect x="581.57" y="429.70" width="4.70" height="172.40" fill="#e8157f" /><rect x="588.53" y="600.38" width="4.70" height="1.72" fill="#e8157f" /><rect x="595.49" y="572.83" width="4.70" height="29.27" fill="#e8157f" /><rect x="602.45" y="429.70" width="4.70" height="172.40" fill="#e8157f" /><rect x="609.41" y="600.38" width="4.70" height="1.72" fill="#e8157f" /><rect x="616.37" y="429.70" width="4.70" height="172.40" fill="#e8157f" /><rect x="623.33" y="596.76" width="4.70" height="5.34" fill="#e8157f" /><rect x="630.29" y="487.76" width="4.70" height="114.34" fill="#e8157f" /><rect x="637.25" y="429.70" width="4.70" height="172.40" fill="#e8157f" /><path d="M54.96,433.92 L59.76,438.72 L54.96,443.52 L50.16,438.72 Z" fill="#fff" stroke="#8b1a1a" stroke-width="1.3"/><path d="M68.88,433.26 L73.68,438.06 L68.88,442.86 L64.08,438.06 Z" fill="#fff" stroke="#8b1a1a" stroke-width="1.3"/><path d="M75.84,515.69 L80.64,520.49 L75.84,525.29 L71.04,520.49 Z" fill="#fff" stroke="#8b1a1a" stroke-width="1.3"/><path d="M82.80,515.69 L87.60,520.49 L82.80,525.29 L78.00,520.49 Z" fill="#fff" stroke="#8b1a1a" stroke-width="1.3"/><path d="M96.72,455.27 L101.52,460.07 L96.72,464.87 L91.92,460.07 Z" fill="#fff" stroke="#8b1a1a" stroke-width="1.3"/><path d="M103.68,435.07 L108.48,439.87 L103.68,444.67 L98.88,439.87 Z" fill="#fff" stroke="#8b1a1a" stroke-width="1.3"/><path d="M110.64,433.26 L115.44,438.06 L110.64,442.86 L105.84,438.06 Z" fill="#fff" stroke="#8b1a1a" stroke-width="1.3"/><path d="M131.52,452.64 L136.32,457.44 L131.52,462.24 L126.72,457.44 Z" fill="#fff" stroke="#8b1a1a" stroke-width="1.3"/><path d="M138.48,440.32 L143.28,445.12 L138.48,449.92 L133.68,445.12 Z" fill="#fff" stroke="#8b1a1a" stroke-width="1.3"/><path d="M145.44,433.10 L150.24,437.90 L145.44,442.70 L140.64,437.90 Z" fill="#fff" stroke="#8b1a1a" stroke-width="1.3"/><path d="M159.36,480.06 L164.16,484.86 L159.36,489.66 L154.56,484.86 Z" fill="#fff" stroke="#8b1a1a" stroke-width="1.3"/><path d="M166.32,474.15 L171.12,478.95 L166.32,483.75 L161.52,478.95 Z" fill="#fff" stroke="#8b1a1a" stroke-width="1.3"/><path d="M173.28,484.17 L178.08,488.97 L173.28,493.77 L168.48,488.97 Z" fill="#fff" stroke="#8b1a1a" stroke-width="1.3"/><path d="M180.24,439.50 L185.04,444.30 L180.24,449.10 L175.44,444.30 Z" fill="#fff" stroke="#8b1a1a" stroke-width="1.3"/><path d="M194.16,448.21 L198.96,453.01 L194.16,457.81 L189.36,453.01 Z" fill="#fff" stroke="#8b1a1a" stroke-width="1.3"/><path d="M201.12,436.88 L205.92,441.68 L201.12,446.48 L196.32,441.68 Z" fill="#fff" stroke="#8b1a1a" stroke-width="1.3"/><path d="M208.08,466.60 L212.88,471.40 L208.08,476.20 L203.28,471.40 Z" fill="#fff" stroke="#8b1a1a" stroke-width="1.3"/><path d="M228.96,483.67 L233.76,488.47 L228.96,493.27 L224.16,488.47 Z" fill="#fff" stroke="#8b1a1a" stroke-width="1.3"/><path d="M242.88,433.26 L247.68,438.06 L242.88,442.86 L238.08,438.06 Z" fill="#fff" stroke="#8b1a1a" stroke-width="1.3"/><path d="M256.80,433.26 L261.60,438.06 L256.80,442.86 L252.00,438.06 Z" fill="#fff" stroke="#8b1a1a" stroke-width="1.3"/><path d="M263.76,444.92 L268.56,449.72 L263.76,454.52 L258.96,449.72 Z" fill="#fff" stroke="#8b1a1a" stroke-width="1.3"/><path d="M277.68,455.27 L282.48,460.07 L277.68,464.87 L272.88,460.07 Z" fill="#fff" stroke="#8b1a1a" stroke-width="1.3"/><path d="M291.60,445.09 L296.40,449.89 L291.60,454.69 L286.80,449.89 Z" fill="#fff" stroke="#8b1a1a" stroke-width="1.3"/><path d="M305.52,433.10 L310.32,437.90 L305.52,442.70 L300.72,437.90 Z" fill="#fff" stroke="#8b1a1a" stroke-width="1.3"/><path d="M312.48,438.19 L317.28,442.99 L312.48,447.79 L307.68,442.99 Z" fill="#fff" stroke="#8b1a1a" stroke-width="1.3"/><path d="M326.40,477.11 L331.20,481.91 L326.40,486.71 L321.60,481.91 Z" fill="#fff" stroke="#8b1a1a" stroke-width="1.3"/><path d="M340.32,433.10 L345.12,437.90 L340.32,442.70 L335.52,437.90 Z" fill="#fff" stroke="#ff8c1a" stroke-width="1.3"/><path d="M347.28,433.10 L352.08,437.90 L347.28,442.70 L342.48,437.90 Z" fill="#fff" stroke="#ff8c1a" stroke-width="1.3"/><path d="M354.24,451.65 L359.04,456.45 L354.24,461.25 L349.44,456.45 Z" fill="#fff" stroke="#ff8c1a" stroke-width="1.3"/><path d="M368.16,444.27 L372.96,449.07 L368.16,453.87 L363.36,449.07 Z" fill="#fff" stroke="#11a055" stroke-width="1.3"/><path d="M375.12,436.88 L379.92,441.68 L375.12,446.48 L370.32,441.68 Z" fill="#fff" stroke="#11a055" stroke-width="1.3"/><path d="M382.08,490.73 L386.88,495.53 L382.08,500.33 L377.28,495.53 Z" fill="#fff" stroke="#11a055" stroke-width="1.3"/><path d="M389.04,435.07 L393.84,439.87 L389.04,444.67 L384.24,439.87 Z" fill="#fff" stroke="#11a055" stroke-width="1.3"/><path d="M396.00,500.42 L400.80,505.22 L396.00,510.02 L391.20,505.22 Z" fill="#fff" stroke="#11a055" stroke-width="1.3"/><path d="M402.96,440.32 L407.76,445.12 L402.96,449.92 L398.16,445.12 Z" fill="#fff" stroke="#11a055" stroke-width="1.3"/><path d="M409.92,449.52 L414.72,454.32 L409.92,459.12 L405.12,454.32 Z" fill="#fff" stroke="#11a055" stroke-width="1.3"/><path d="M416.88,549.19 L421.68,553.99 L416.88,558.79 L412.08,553.99 Z" fill="#fff" stroke="#11a055" stroke-width="1.3"/><path d="M423.84,471.03 L428.64,475.83 L423.84,480.63 L419.04,475.83 Z" fill="#fff" stroke="#11a055" stroke-width="1.3"/><path d="M430.80,455.27 L435.60,460.07 L430.80,464.87 L426.00,460.07 Z" fill="#fff" stroke="#11a055" stroke-width="1.3"/><path d="M437.76,440.98 L442.56,445.78 L437.76,450.58 L432.96,445.78 Z" fill="#fff" stroke="#11a055" stroke-width="1.3"/><path d="M444.72,466.93 L449.52,471.73 L444.72,476.53 L439.92,471.73 Z" fill="#fff" stroke="#11a055" stroke-width="1.3"/><path d="M451.68,437.37 L456.48,442.17 L451.68,446.97 L446.88,442.17 Z" fill="#fff" stroke="#11a055" stroke-width="1.3"/><path d="M458.64,471.85 L463.44,476.65 L458.64,481.45 L453.84,476.65 Z" fill="#fff" stroke="#11a055" stroke-width="1.3"/><path d="M465.60,496.81 L470.40,501.61 L465.60,506.41 L460.80,501.61 Z" fill="#fff" stroke="#11a055" stroke-width="1.3"/><path d="M479.52,515.20 L484.32,520.00 L479.52,524.80 L474.72,520.00 Z" fill="#fff" stroke="#ff8282" stroke-width="1.3"/><path d="M486.48,510.44 L491.28,515.24 L486.48,520.04 L481.68,515.24 Z" fill="#fff" stroke="#ff8282" stroke-width="1.3"/><path d="M493.44,476.28 L498.24,481.08 L493.44,485.88 L488.64,481.08 Z" fill="#fff" stroke="#ff8282" stroke-width="1.3"/><path d="M507.36,433.92 L512.16,438.72 L507.36,443.52 L502.56,438.72 Z" fill="#fff" stroke="#ff8282" stroke-width="1.3"/><path d="M514.32,438.52 L519.12,443.32 L514.32,448.12 L509.52,443.32 Z" fill="#fff" stroke="#ff8282" stroke-width="1.3"/><path d="M521.28,504.86 L526.08,509.66 L521.28,514.46 L516.48,509.66 Z" fill="#fff" stroke="#ff8282" stroke-width="1.3"/><path d="M528.24,450.83 L533.04,455.63 L528.24,460.43 L523.44,455.63 Z" fill="#fff" stroke="#36aaf6" stroke-width="1.3"/><path d="M535.20,446.07 L540.00,450.87 L535.20,455.67 L530.40,450.87 Z" fill="#fff" stroke="#36aaf6" stroke-width="1.3"/><path d="M549.12,487.61 L553.92,492.41 L549.12,497.21 L544.32,492.41 Z" fill="#fff" stroke="#36aaf6" stroke-width="1.3"/><path d="M556.08,465.94 L560.88,470.74 L556.08,475.54 L551.28,470.74 Z" fill="#fff" stroke="#e8157f" stroke-width="1.3"/><path d="M563.04,436.55 L567.84,441.35 L563.04,446.15 L558.24,441.35 Z" fill="#fff" stroke="#e8157f" stroke-width="1.3"/><path d="M583.92,434.25 L588.72,439.05 L583.92,443.85 L579.12,439.05 Z" fill="#fff" stroke="#e8157f" stroke-width="1.3"/><path d="M590.88,449.52 L595.68,454.32 L590.88,459.12 L586.08,454.32 Z" fill="#fff" stroke="#e8157f" stroke-width="1.3"/><path d="M604.80,434.25 L609.60,439.05 L604.80,443.85 L600.00,439.05 Z" fill="#fff" stroke="#e8157f" stroke-width="1.3"/><path d="M611.76,543.44 L616.56,548.24 L611.76,553.04 L606.96,548.24 Z" fill="#fff" stroke="#e8157f" stroke-width="1.3"/><path d="M618.72,433.43 L623.52,438.23 L618.72,443.03 L613.92,438.23 Z" fill="#fff" stroke="#e8157f" stroke-width="1.3"/><path d="M625.68,536.87 L630.48,541.67 L625.68,546.47 L620.88,541.67 Z" fill="#fff" stroke="#e8157f" stroke-width="1.3"/><path d="M632.64,433.43 L637.44,438.23 L632.64,443.03 L627.84,438.23 Z" fill="#fff" stroke="#e8157f" stroke-width="1.3"/><path d="M639.60,440.00 L644.40,444.80 L639.60,449.60 L634.80,444.80 Z" fill="#fff" stroke="#7a1e14" stroke-width="1.3"/><text x="446.40" y="459.70" font-size="12.1" text-anchor="start" fill="#b3121b" >This work</text><line x1="505.70" y1="487.20" x2="489.50" y2="469.00" stroke="#e81414" stroke-width="1.1" /><path d="M485.6,464.6 L493.2,468.0 L488.6,472.2 Z" fill="#e81414"/><line x1="48.10" y1="429.70" x2="643.40" y2="429.70" stroke="#222" stroke-width="1.35" /><line x1="48.10" y1="429.70" x2="48.10" y2="602.10" stroke="#111" stroke-width="1.35" /><line x1="48.10" y1="602.10" x2="643.40" y2="602.10" stroke="#111" stroke-width="1.35" /><line x1="643.40" y1="429.70" x2="643.40" y2="602.10" stroke="#8b1a1a" stroke-width="1.35" /><line x1="40.10" y1="602.10" x2="48.10" y2="602.10" stroke="#111" stroke-width="1.0" /><text x="34.40" y="605.40" font-size="10.3" text-anchor="end" fill="#000" >0.0</text><line x1="40.10" y1="567.66" x2="48.10" y2="567.66" stroke="#111" stroke-width="1.0" /><text x="34.40" y="570.96" font-size="10.3" text-anchor="end" fill="#000" >0.2</text><line x1="40.10" y1="533.22" x2="48.10" y2="533.22" stroke="#111" stroke-width="1.0" /><text x="34.40" y="536.52" font-size="10.3" text-anchor="end" fill="#000" >0.4</text><line x1="40.10" y1="498.78" x2="48.10" y2="498.78" stroke="#111" stroke-width="1.0" /><text x="34.40" y="502.08" font-size="10.3" text-anchor="end" fill="#000" >0.6</text><line x1="40.10" y1="464.34" x2="48.10" y2="464.34" stroke="#111" stroke-width="1.0" /><text x="34.40" y="467.64" font-size="10.3" text-anchor="end" fill="#000" >0.8</text><line x1="40.10" y1="429.90" x2="48.10" y2="429.90" stroke="#111" stroke-width="1.0" /><text x="34.40" y="433.20" font-size="10.3" text-anchor="end" fill="#000" >1.0</text><line x1="44.10" y1="584.88" x2="48.10" y2="584.88" stroke="#111" stroke-width="1.2" /><line x1="44.10" y1="550.44" x2="48.10" y2="550.44" stroke="#111" stroke-width="1.2" /><line x1="44.10" y1="516.00" x2="48.10" y2="516.00" stroke="#111" stroke-width="1.2" /><line x1="44.10" y1="481.56" x2="48.10" y2="481.56" stroke="#111" stroke-width="1.2" /><line x1="44.10" y1="447.12" x2="48.10" y2="447.12" stroke="#111" stroke-width="1.2" /><line x1="48.00" y1="602.10" x2="48.00" y2="609.10" stroke="#111" stroke-width="1.2" /><text x="48.00" y="623.90" font-size="10.4" text-anchor="middle" fill="#000" >0</text><line x1="117.60" y1="602.10" x2="117.60" y2="609.10" stroke="#111" stroke-width="1.2" /><text x="117.60" y="623.90" font-size="10.4" text-anchor="middle" fill="#000" >10</text><line x1="187.20" y1="602.10" x2="187.20" y2="609.10" stroke="#111" stroke-width="1.2" /><text x="187.20" y="623.90" font-size="10.4" text-anchor="middle" fill="#000" >20</text><line x1="256.80" y1="602.10" x2="256.80" y2="609.10" stroke="#111" stroke-width="1.2" /><text x="256.80" y="623.90" font-size="10.4" text-anchor="middle" fill="#000" >30</text><line x1="326.40" y1="602.10" x2="326.40" y2="609.10" stroke="#111" stroke-width="1.2" /><text x="326.40" y="623.90" font-size="10.4" text-anchor="middle" fill="#000" >40</text><line x1="396.00" y1="602.10" x2="396.00" y2="609.10" stroke="#111" stroke-width="1.2" /><text x="396.00" y="623.90" font-size="10.4" text-anchor="middle" fill="#000" >50</text><line x1="465.60" y1="602.10" x2="465.60" y2="609.10" stroke="#111" stroke-width="1.2" /><text x="465.60" y="623.90" font-size="10.4" text-anchor="middle" fill="#000" >60</text><line x1="535.20" y1="602.10" x2="535.20" y2="609.10" stroke="#111" stroke-width="1.2" /><text x="535.20" y="623.90" font-size="10.4" text-anchor="middle" fill="#000" >70</text><line x1="604.80" y1="602.10" x2="604.80" y2="609.10" stroke="#111" stroke-width="1.2" /><text x="604.80" y="623.90" font-size="10.4" text-anchor="middle" fill="#000" >80</text><line x1="82.80" y1="602.10" x2="82.80" y2="606.10" stroke="#111" stroke-width="1.2" /><line x1="152.40" y1="602.10" x2="152.40" y2="606.10" stroke="#111" stroke-width="1.2" /><line x1="222.00" y1="602.10" x2="222.00" y2="606.10" stroke="#111" stroke-width="1.2" /><line x1="291.60" y1="602.10" x2="291.60" y2="606.10" stroke="#111" stroke-width="1.2" /><line x1="361.20" y1="602.10" x2="361.20" y2="606.10" stroke="#111" stroke-width="1.2" /><line x1="430.80" y1="602.10" x2="430.80" y2="606.10" stroke="#111" stroke-width="1.2" /><line x1="500.40" y1="602.10" x2="500.40" y2="606.10" stroke="#111" stroke-width="1.2" /><line x1="570.00" y1="602.10" x2="570.00" y2="606.10" stroke="#111" stroke-width="1.2" /><line x1="639.60" y1="602.10" x2="639.60" y2="606.10" stroke="#111" stroke-width="1.2" /><line x1="643.40" y1="602.10" x2="650.90" y2="602.10" stroke="#8b1a1a" stroke-width="1.2" /><text x="656.50" y="605.50" font-size="10.4" text-anchor="start" fill="#8b1a1a" >0</text><line x1="643.40" y1="569.26" x2="650.90" y2="569.26" stroke="#8b1a1a" stroke-width="1.2" /><text x="656.50" y="572.66" font-size="10.4" text-anchor="start" fill="#8b1a1a" >20</text><line x1="643.40" y1="536.42" x2="650.90" y2="536.42" stroke="#8b1a1a" stroke-width="1.2" /><text x="656.50" y="539.82" font-size="10.4" text-anchor="start" fill="#8b1a1a" >40</text><line x1="643.40" y1="503.58" x2="650.90" y2="503.58" stroke="#8b1a1a" stroke-width="1.2" /><text x="656.50" y="506.98" font-size="10.4" text-anchor="start" fill="#8b1a1a" >60</text><line x1="643.40" y1="470.74" x2="650.90" y2="470.74" stroke="#8b1a1a" stroke-width="1.2" /><text x="656.50" y="474.14" font-size="10.4" text-anchor="start" fill="#8b1a1a" >80</text><line x1="643.40" y1="437.90" x2="650.90" y2="437.90" stroke="#8b1a1a" stroke-width="1.2" /><text x="656.50" y="441.30" font-size="10.4" text-anchor="start" fill="#8b1a1a" >100</text><line x1="643.40" y1="585.68" x2="647.20" y2="585.68" stroke="#8b1a1a" stroke-width="1.2" /><line x1="643.40" y1="552.84" x2="647.20" y2="552.84" stroke="#8b1a1a" stroke-width="1.2" /><line x1="643.40" y1="520.00" x2="647.20" y2="520.00" stroke="#8b1a1a" stroke-width="1.2" /><line x1="643.40" y1="487.16" x2="647.20" y2="487.16" stroke="#8b1a1a" stroke-width="1.2" /><line x1="643.40" y1="454.32" x2="647.20" y2="454.32" stroke="#8b1a1a" stroke-width="1.2" /><text transform="translate(681.20,515.80) rotate(-90)" font-size="13.2" text-anchor="middle" fill="#8b1a1a">Selectivity (%)</text><text transform="translate(12.00,511.50) rotate(-90)" font-size="13.0" text-anchor="middle" fill="#000"><tspan dy="0.00" >Product yield (mmol g</tspan><tspan dy="-6.11" font-size="8.45" >-1</tspan><tspan dy="6.11" > h</tspan><tspan dy="-6.11" font-size="8.45" >-1</tspan><tspan dy="6.11" >)</tspan></text><text x="334.90" y="637.20" font-size="12.6" text-anchor="middle" fill="#000" >References</text><text x="4.40" y="419.20" font-size="14.5" text-anchor="start" fill="#000" >e</text><rect x="51.10" y="408.50" width="16.10" height="10.60" fill="#8b0a0a" /><text x="74.50" y="418.20" font-size="11.3" text-anchor="start" fill="#000" >CO</text><rect x="102.90" y="408.50" width="15.70" height="10.60" fill="#ff8c1a" /><text x="122.00" y="418.20" font-size="11.3" text-anchor="start" fill="#000" >HCOOH</text><rect x="177.90" y="408.50" width="16.00" height="10.60" fill="#11a055" /><text x="200.40" y="418.20" font-size="11.3" text-anchor="start" fill="#000" ><tspan dy="0.00" >CH</tspan><tspan dy="2.49" font-size="7.35" >4</tspan></text><rect x="237.70" y="408.50" width="16.40" height="10.60" fill="#ff8282" /><text x="260.90" y="418.20" font-size="11.3" text-anchor="start" fill="#000" ><tspan dy="0.00" >CH</tspan><tspan dy="2.49" font-size="7.35" >3</tspan><tspan dy="-2.49" >OH</tspan></text><rect x="316.00" y="408.50" width="15.50" height="10.60" fill="#36aaf6" /><text x="340.50" y="418.20" font-size="11.3" text-anchor="start" fill="#000" ><tspan dy="0.00" >C</tspan><tspan dy="2.49" font-size="7.35" >2</tspan></text><rect x="369.20" y="408.50" width="16.20" height="10.60" fill="#e8157f" /><text x="390.90" y="418.20" font-size="11.3" text-anchor="start" fill="#000" >Severe conditions (high pressure/temperature)</text>
</svg>
</body></html>
